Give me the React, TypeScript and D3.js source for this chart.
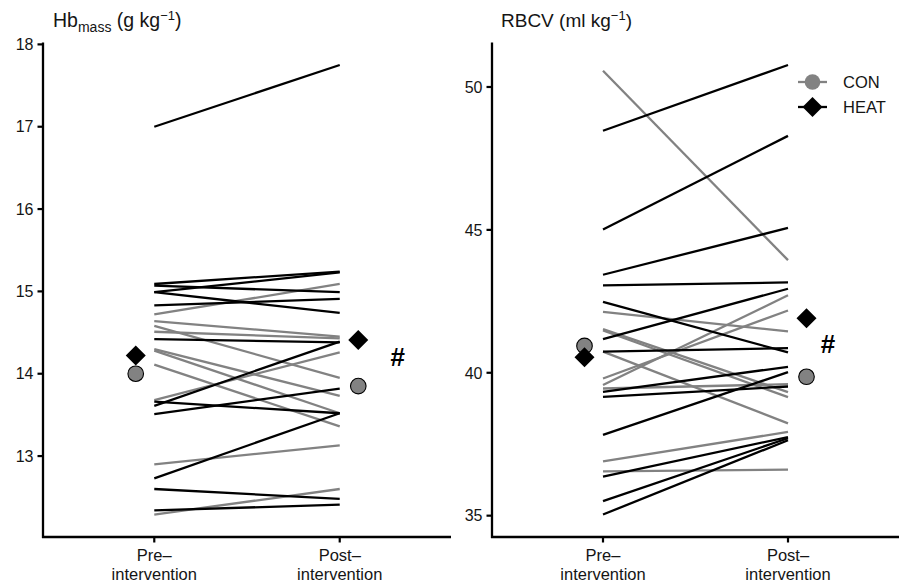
import React from "react";
import * as d3 from "d3";

const W = 901;
const H = 583;

const timeLine1 = ["Pre–", "Post–"];
const timeLine2 = ["intervention", "intervention"];
const times = ["pre", "post"];

// Hb mass (g/kg)
const hbHeatPre = [17.0, 15.09, 15.07, 14.99, 14.99, 14.83, 14.42, 13.66, 13.61, 13.51, 12.73, 12.6, 12.34];
const hbHeatPost = [17.75, 15.24, 14.99, 15.23, 14.74, 14.91, 14.38, 13.52, 14.39, 13.82, 13.52, 12.48, 12.41];
const hbConPre = [14.72, 14.64, 14.58, 14.51, 14.3, 14.28, 14.11, 13.68, 12.9, 12.29];
const hbConPost = [15.09, 14.45, 13.95, 14.43, 13.73, 13.52, 13.36, 14.26, 13.13, 12.6];
const hbMeanCon = [14.0, 13.85];
const hbMeanHeat = [14.22, 14.41];
const hbTicks = [13, 14, 15, 16, 17, 18];

// RBCV (ml/kg)
const rbHeatPre = [48.47, 45.01, 43.43, 43.06, 42.48, 41.18, 40.74, 39.33, 39.16, 37.83, 36.37, 35.51, 35.04];
const rbHeatPost = [50.77, 48.29, 45.07, 43.16, 40.71, 42.94, 40.86, 40.21, 39.52, 40.02, 37.75, 37.71, 37.64];
const rbConPre = [50.57, 42.13, 41.53, 41.48, 40.74, 39.8, 39.57, 39.45, 36.9, 36.55];
const rbConPost = [43.94, 41.45, 39.32, 39.15, 38.23, 42.18, 42.71, 39.6, 37.93, 36.61];
const rbMeanCon = [40.94, 39.86];
const rbMeanHeat = [40.54, 41.91];
const rbTicks = [35, 40, 45, 50];

const FONT = "'Liberation Sans', Arial, Helvetica, sans-serif";
const GRAY = "#828282";
const INK = "#151515";
const TOP = 42.5;
const BOTTOM = 537;
const LW = 2.3;

type PanelProps = {
  x0: number;
  x1: number;
  heatPre: number[];
  heatPost: number[];
  conPre: number[];
  conPost: number[];
  meanCon: number[];
  meanHeat: number[];
  ticks: number[];
  hashValue: number;
  hashDx: number;
  title: React.ReactNode;
  legend?: boolean;
};

function Diamond({ cx, cy, r }: { cx: number; cy: number; r: number }) {
  return (
    <path
      d={`M${cx},${cy - r}L${cx + r},${cy}L${cx},${cy + r}L${cx - r},${cy}Z`}
      fill="#000"
    />
  );
}

function Panel(p: PanelProps) {
  const all = [...p.heatPre, ...p.heatPost, ...p.conPre, ...p.conPost];
  const [mn, mx] = d3.extent(all) as [number, number];
  const pad = (mx - mn) * 0.05;
  const y = d3.scaleLinear().domain([mn - pad, mx + pad]).range([BOTTOM, TOP]);
  const x = d3.scalePoint<string>().domain(times).range([p.x0, p.x1]).padding(0.6);
  const step = x.step();
  const dodge = step * 0.1;
  const line = d3
    .line<[string, number]>()
    .x((d) => x(d[0]) as number)
    .y((d) => y(d[1]));

  const conLines = p.conPre.map((v, i) => line([["pre", v], ["post", p.conPost[i]]]) as string);
  const heatLines = p.heatPre.map((v, i) => line([["pre", v], ["post", p.heatPost[i]]]) as string);

  return (
    <g fontFamily={FONT}>
      {p.title}
      {conLines.map((d, i) => (
        <path key={"c" + i} d={d} stroke={GRAY} strokeWidth={LW} fill="none" />
      ))}
      {heatLines.map((d, i) => (
        <path key={"h" + i} d={d} stroke="#000" strokeWidth={LW} fill="none" />
      ))}
      {times.map((t, i) => {
        const cx = (x(t) as number) + (i === 0 ? -dodge : dodge);
        return (
          <g key={"m" + t}>
            <circle cx={cx} cy={y(p.meanCon[i])} r={7.8} fill={GRAY} stroke="#000" strokeWidth={1.1} />
            <Diamond cx={cx} cy={y(p.meanHeat[i])} r={10} />
          </g>
        );
      })}
      <text
        x={(x("post") as number) + p.hashDx}
        y={y(p.hashValue)}
        dy="0.35em"
        textAnchor="middle"
        fontWeight="bold"
        fontSize={26}
        fill="#000"
      >
        #
      </text>
      <line x1={p.x0} x2={p.x0} y1={TOP} y2={BOTTOM + 1} stroke="#000" strokeWidth={2.3} />
      {p.ticks.map((t) => (
        <g key={"yt" + t}>
          <line x1={p.x0 - 5.5} x2={p.x0} y1={y(t)} y2={y(t)} stroke="#000" strokeWidth={2.2} />
          <text x={p.x0 - 9.5} y={y(t)} dy="0.36em" textAnchor="end" fontSize={16} fill={INK}>
            {t}
          </text>
        </g>
      ))}
      <line x1={p.x0 - 1} x2={p.x1} y1={BOTTOM} y2={BOTTOM} stroke="#000" strokeWidth={2.3} />
      {times.map((t, i) => (
        <g key={"xt" + t}>
          <line x1={x(t)} x2={x(t)} y1={BOTTOM} y2={BOTTOM + 5.5} stroke="#000" strokeWidth={2.2} />
          <text x={x(t)} y={561} textAnchor="middle" fontSize={16.5} fill={INK}>
            {timeLine1[i]}
          </text>
          <text x={x(t)} y={580} textAnchor="middle" fontSize={16.5} fill={INK}>
            {timeLine2[i]}
          </text>
        </g>
      ))}
      {p.legend && (
        <g>
          <line x1={798} x2={827} y1={82} y2={82} stroke={GRAY} strokeWidth={LW} />
          <circle cx={812.5} cy={82} r={7.8} fill={GRAY} />
          <text x={843} y={82} dy="0.36em" fontSize={16.5} fill={INK}>
            CON
          </text>
          <line x1={798} x2={827} y1={107} y2={107} stroke="#000" strokeWidth={LW} />
          <Diamond cx={812.5} cy={107} r={10} />
          <text x={843} y={107} dy="0.36em" fontSize={16.5} fill={INK}>
            HEAT
          </text>
        </g>
      )}
    </g>
  );
}

export default function App() {
  return (
    <svg
      width={W}
      height={H}
      viewBox={`0 0 ${W} ${H}`}
      style={{ position: "absolute", left: 0, top: 0, display: "block", background: "#fff" }}
    >
      <rect width={W} height={H} fill="#fff" />
      <Panel
        x0={43}
        x1={451}
        heatPre={hbHeatPre}
        heatPost={hbHeatPost}
        conPre={hbConPre}
        conPost={hbConPost}
        meanCon={hbMeanCon}
        meanHeat={hbMeanHeat}
        ticks={hbTicks}
        hashValue={14.2}
        hashDx={58}
        title={
          <text x={53} y={27} fontSize={19.5} fill={INK} fontFamily={FONT}>
            Hb
            <tspan fontSize={14} dy={4.5}>mass</tspan>
            <tspan dy={-4.5}> (g kg</tspan>
            <tspan fontSize={13} dy={-7.5}>−1</tspan>
            <tspan dy={7.5}>)</tspan>
          </text>
        }
      />
      <Panel
        x0={492}
        x1={899}
        heatPre={rbHeatPre}
        heatPost={rbHeatPost}
        conPre={rbConPre}
        conPost={rbConPost}
        meanCon={rbMeanCon}
        meanHeat={rbMeanHeat}
        ticks={rbTicks}
        hashValue={41.0}
        hashDx={40}
        legend
        title={
          <text x={501} y={27} fontSize={19} fill={INK} fontFamily={FONT}>
            RBCV (ml kg
            <tspan fontSize={13} dy={-7.5}>−1</tspan>
            <tspan dy={7.5}>)</tspan>
          </text>
        }
      />
    </svg>
  );
}
